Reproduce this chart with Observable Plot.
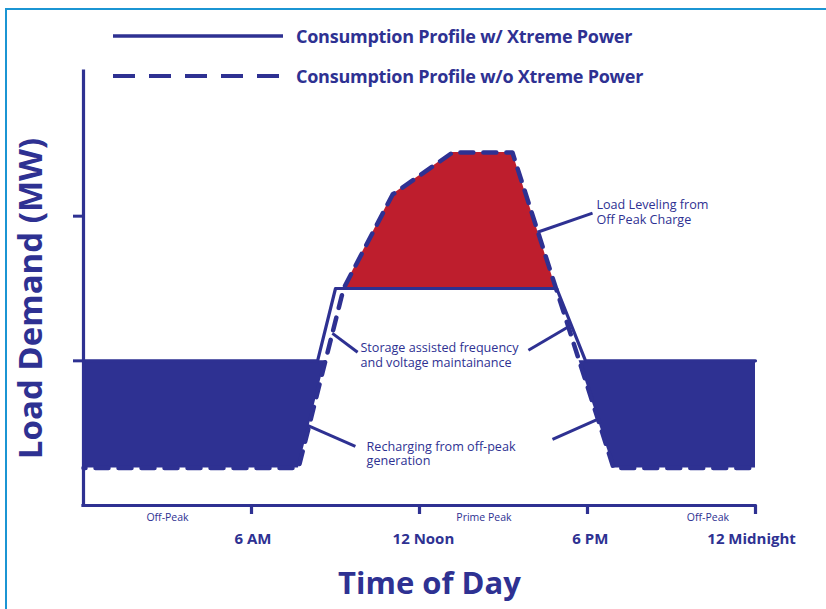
<!DOCTYPE html>
<html><head><meta charset="utf-8">
<script src="https://cdn.jsdelivr.net/npm/d3@7"></script>
<script src="https://cdn.jsdelivr.net/npm/@observablehq/plot@0.6"></script>
<style>
html,body{margin:0;padding:0;background:#fff;}
#wrap{position:relative;width:826px;height:609px;overflow:hidden;font-family:"Open Sans",sans-serif;}
#frame{position:absolute;left:5px;top:8px;width:900px;height:700px;border-left:2px solid #1b95d3;border-top:2px solid #1b95d3;}
#chart{position:absolute;left:0;top:0;}
#legend{position:absolute;left:113px;top:0;}
.item{position:absolute;left:0;height:22px;display:flex;align-items:center;white-space:nowrap;}
.item span{font-weight:700;font-size:18px;color:#2e3192;margin-left:13px;letter-spacing:-0.25px;}
</style></head>
<body><div id="wrap"><div id="frame"></div><div id="chart"></div><div id="legend"></div></div>
<script>
const blue = "#2e3192";
const red = "#be1e2d";

// Consumption profile with Xtreme Power (solid)
const solidHours = [0, 8.36, 9.0, 16.9, 17.93, 24];
const solidLoad  = [1.0, 1.0, 1.5, 1.5, 1.0, 1.0];
// Consumption profile without Xtreme Power (dashed)
const dashedHours = [0, 7.68, 9.29, 11.04, 13.18, 15.32, 18.93, 24];
const dashedLoad  = [0.26, 0.26, 1.5, 2.15, 2.44, 2.44, 0.26, 0.26];

// Filled regions
const levelHours = [9.29, 11.04, 13.18, 15.32, 16.88];
const levelTop   = [1.5, 2.15, 2.44, 2.44, 1.5];
const levelBase  = [1.5, 1.5, 1.5, 1.5, 1.5];
const rechargeLeftHours = [0, 7.68, 8.64];
const rechargeLeftLow   = [0.26, 0.26, 1.0];
const rechargeRightHours = [17.7, 18.93, 24];
const rechargeRightLow   = [1.0, 0.26, 0.26];
const offPeakLevel = 1.0;

// Axis ticks and labels
const xTicks = [6, 12, 18, 24];
const timeLabels = ["6 AM", "12 Noon", "6 PM", "12 Midnight"];
const timeLabelHours = [6.05, 12.14, 18.1, 23.86];
const periodLabels = ["Off-Peak", "Prime Peak", "Off-Peak"];
const periodHours = [3, 14.3, 22.3];
const yTicks = [1, 2];

// Annotations
const noteText = ["Load Leveling from\nOff Peak Charge", "Storage assisted frequency\nand voltage maintainance", "Recharging from off-peak\ngeneration"];
const noteHours = [18.32, 9.89, 10.11];
const noteLoad = [2.03, 1.04, 0.36];
const leaderX1 = [16.21, 8.89, 15.89, 8.0, 16.75];
const leaderY1 = [1.889, 1.19, 1.073, 0.554, 0.457];
const leaderX2 = [18.18, 9.79, 17.29, 9.71, 18.36];
const leaderY2 = [2.021, 1.059, 1.232, 0.408, 0.595];

const legendItems = ["Consumption Profile w/ Xtreme Power", "Consumption Profile w/o Xtreme Power"];

const solid = solidHours.map((h, i) => ({hour: h, load: solidLoad[i]}));
const dashed = dashedHours.map((h, i) => ({hour: h, load: dashedLoad[i]}));
const level = levelHours.map((h, i) => ({hour: h, top: levelTop[i], base: levelBase[i]}));
const rechL = rechargeLeftHours.map((h, i) => ({hour: h, low: rechargeLeftLow[i], high: offPeakLevel}));
const rechR = rechargeRightHours.map((h, i) => ({hour: h, low: rechargeRightLow[i], high: offPeakLevel}));
const times = xTicks.map((t, i) => ({hour: timeLabelHours[i], label: timeLabels[i]}));
const periods = periodLabels.map((p, i) => ({hour: periodHours[i], label: p}));
const notes = noteText.map((t, i) => ({hour: noteHours[i], load: noteLoad[i], text: t}));
const leaders = leaderX1.map((x, i) => ({x1: x, y1: leaderY1[i], x2: leaderX2[i], y2: leaderY2[i]}));

const chart = Plot.plot({
  width: 826, height: 609,
  marginLeft: 83, marginRight: 71, marginTop: 71, marginBottom: 104,
  x: {domain: [0, 24]},
  y: {domain: [0, 3]},
  style: {fontFamily: "'Open Sans', sans-serif", color: blue, background: "transparent", overflow: "visible"},
  marks: [
    Plot.areaY(rechL, {x: "hour", y1: "low", y2: "high", fill: blue}),
    Plot.areaY(rechR, {x: "hour", y1: "low", y2: "high", fill: blue}),
    Plot.areaY(level, {x: "hour", y1: "base", y2: "top", fill: red}),
    Plot.line(dashed, {x: "hour", y: "load", stroke: blue, strokeWidth: 4.5, strokeDasharray: "13,10", strokeDashoffset: -12}),
    Plot.line(solid, {x: "hour", y: "load", stroke: blue, strokeWidth: 3.2}),
    Plot.ruleX([0], {stroke: blue, strokeWidth: 3.2, strokeLinecap: "square"}),
    Plot.ruleY([0], {stroke: blue, strokeWidth: 3.2, strokeLinecap: "square"}),
    Plot.axisX({ticks: xTicks, tickSize: 9, tickFormat: () => "", stroke: blue, strokeWidth: 3.2, label: null}),
    Plot.axisY({ticks: yTicks, tickSize: 10, tickFormat: () => "", stroke: blue, strokeWidth: 3, label: null}),
    Plot.link(leaders, {x1: "x1", y1: "y1", x2: "x2", y2: "y2", stroke: blue, strokeWidth: 3}),
    Plot.text(notes, {x: "hour", y: "load", text: "text", textAnchor: "start", lineAnchor: "middle", lineHeight: 1.15, fontSize: 12.6, fill: blue}),
    Plot.text(times, {x: "hour", text: "label", frameAnchor: "bottom", dy: 38, fontSize: 15, fontWeight: "bold", fill: blue}),
    Plot.text(periods, {x: "hour", text: "label", frameAnchor: "bottom", dy: 15, fontSize: 10.5, fill: blue}),
    Plot.text(["Time of Day"], {frameAnchor: "bottom", dx: 10, dy: 88, fontSize: 31, fontWeight: "bold", fill: blue}),
    Plot.text(["Load Demand (MW)"], {frameAnchor: "left", textAnchor: "middle", rotate: -90, dx: -52, dy: 10, fontSize: 33, fontWeight: "bold", fill: blue})
  ]
});
document.getElementById("chart").appendChild(chart);

const legend = document.getElementById("legend");
legendItems.forEach((label, i) => {
  const item = document.createElement("div");
  item.className = "item";
  item.style.top = (i === 0 ? 25 : 65) + "px";
  const dash = i === 0 ? "" : ' stroke-dasharray="22,14"';
  item.innerHTML = `<svg width="170" height="8"><line x1="0" y1="4" x2="170" y2="4" stroke="${blue}" stroke-width="${i === 0 ? 3.5 : 4}"${dash}/></svg><span>${label}</span>`;
  legend.appendChild(item);
});
</script>
</body></html>
